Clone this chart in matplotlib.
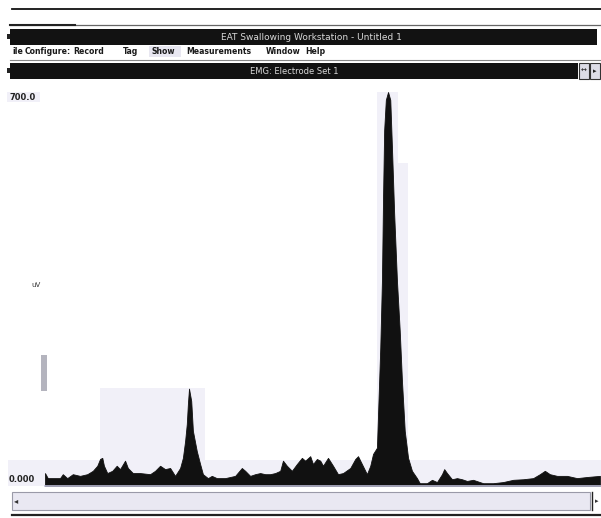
import numpy as np
import matplotlib
matplotlib.use("Agg")
from matplotlib import pyplot as plt
from matplotlib.patches import Rectangle

# EMG trace (time in s, amplitude in uV)
t = [0.00, 0.05, 0.27, 0.32, 0.40, 0.50, 0.63, 0.76, 0.86, 0.94, 0.99, 1.03,
     1.06, 1.12, 1.21, 1.29, 1.35, 1.44, 1.49, 1.58, 1.71, 1.89, 1.98, 2.07,
     2.16, 2.25, 2.34, 2.43, 2.48, 2.52, 2.55, 2.57, 2.59, 2.63, 2.66, 2.73,
     2.79, 2.84, 2.93, 3.00, 3.09, 3.24, 3.42, 3.54, 3.60, 3.69, 3.78, 3.87,
     3.96, 4.05, 4.14, 4.23, 4.28, 4.35, 4.44, 4.53, 4.62, 4.68, 4.77, 4.82,
     4.89, 4.95, 5.00, 5.09, 5.18, 5.27, 5.36, 5.49, 5.58, 5.63, 5.70, 5.79,
     5.85, 5.90, 5.97, 5.99, 6.03, 6.06, 6.08, 6.10, 6.13, 6.17, 6.21, 6.24,
     6.28, 6.33, 6.38, 6.42, 6.47, 6.53, 6.60, 6.69, 6.74, 6.87, 6.96, 7.05,
     7.14, 7.18, 7.23, 7.32, 7.41, 7.50, 7.59, 7.70, 7.88, 8.06, 8.24, 8.42,
     8.60, 8.78, 8.90, 8.99, 9.08, 9.21, 9.39, 9.57, 9.75, 9.98]
emg = [23, 14, 14, 21, 14, 21, 18, 21, 27, 36, 48, 50,
       36, 23, 27, 36, 30, 45, 32, 23, 23, 21, 27, 36,
       30, 32, 18, 32, 50, 80, 110, 146, 173, 151, 98, 62,
       39, 21, 14, 18, 14, 14, 18, 32, 27, 18, 21, 23,
       21, 21, 23, 27, 45, 36, 27, 39, 50, 45, 53, 39,
       48, 45, 36, 50, 36, 21, 23, 32, 48, 53, 39, 21,
       36, 57, 68, 128, 246, 365, 513, 632, 686, 700, 686, 602,
       484, 365, 276, 187, 98, 50, 27, 14, 5, 5, 11, 7,
       21, 30, 23, 12, 14, 12, 9, 11, 5, 5, 7, 11,
       12, 14, 21, 27, 21, 18, 18, 14, 16, 18]

menu_items = ["ile", "Configure:", "Record", "Tag", "Show", "Measurements", "Window", "Help"]
menu_x = [12, 25, 73, 123, 151, 186, 266, 305]

W, H = 601, 518
fig = plt.figure(figsize=(W / 100, H / 100), dpi=100)
fig.patch.set_facecolor("white")

# window chrome drawn in pixel coordinates
ui = fig.add_axes([0, 0, 1, 1], zorder=0)
ui.set_xlim(0, W)
ui.set_ylim(H, 0)
ui.axis("off")

lav = "#f1f0f8"
for (x0, y0, x1, y1) in [(8, 460, 601, 486), (100, 388, 205, 460),
                         (377, 92, 398, 460), (398, 163, 408, 460)]:
    ui.add_patch(Rectangle((x0, y0), x1 - x0, y1 - y0, color=lav, lw=0))

ui.plot([12, 601], [9, 9], color="#111111", lw=1.3)
ui.plot([10, 601], [25, 25], color="#666666", lw=0.9)
ui.plot([10, 75], [25, 25], color="#222222", lw=1.5)

# title bar
ui.add_patch(Rectangle((10, 29), 587, 16, color="#121212", lw=0))
ui.add_patch(Rectangle((7, 34), 3, 5, color="#222222", lw=0))
ui.text(311, 37.5, "EAT Swallowing Workstation - Untitled 1", color="#d8d8d8",
        fontsize=6.5, ha="center", va="center")

# menu bar
ui.add_patch(Rectangle((149, 46), 32, 11, color="#e8e7f1", lw=0))
for lbl, x in zip(menu_items, menu_x):
    ui.text(x, 51.5, lbl, fontsize=5.6, fontweight="bold", color="#1a1a1a",
            ha="left", va="center")
ui.plot([10, 601], [60, 60], color="#888888", lw=0.8)

# EMG window bar
ui.add_patch(Rectangle((10, 63), 568, 16, color="#121212", lw=0))
ui.add_patch(Rectangle((7, 68), 3, 5, color="#222222", lw=0))
ui.text(294, 71.5, "EMG: Electrode Set 1", color="#d8d8d8", fontsize=6,
        ha="center", va="center")
ui.add_patch(Rectangle((579, 63), 10, 16, facecolor="#dcdce6", edgecolor="#333333", lw=0.8))
ui.add_patch(Rectangle((590, 63), 10, 16, facecolor="#dcdce6", edgecolor="#333333", lw=0.8))
ui.text(584, 71, "↔", fontsize=5, ha="center", va="center", color="#222222")
ui.text(595, 71, "▸", fontsize=5, ha="center", va="center", color="#222222")

# axis labels
ui.add_patch(Rectangle((7, 92), 33, 10, color=lav, lw=0))
ui.text(9, 97, "700.0", fontsize=6, fontweight="bold", color="#222222", va="center")
ui.text(9, 479, "0.000", fontsize=6, fontweight="bold", color="#222222", va="center")
ui.text(31, 285, "uV", fontsize=5, color="#333333", va="center")
ui.add_patch(Rectangle((41, 355), 6, 36, color="#b4b4be", lw=0))

# scroll bar
ui.add_patch(Rectangle((12, 492), 578, 18, facecolor="#e9e8f2", edgecolor="#9a9aa8", lw=0.8))
ui.text(16, 501, "◂", fontsize=6, ha="center", va="center", color="#333333")
ui.plot([592, 592], [492, 510], color="#222222", lw=1.0)
ui.text(597, 501, "▸", fontsize=5, ha="center", va="center", color="#333333")
ui.plot([12, 601], [515, 515], color="#222222", lw=1.6)

# EMG plot
ax = fig.add_axes([45 / W, 1 - 486 / H, 1 - 45 / W, (486 - 92) / H], zorder=1)
ax.patch.set_alpha(0)
ax.fill_between(t, emg, 0, color="#111111", lw=0.6, edgecolor="#111111")
ax.set_xlim(0, 10)
ax.set_ylim(0, 700)
for s in ["top", "right", "left"]:
    ax.spines[s].set_visible(False)
ax.spines["bottom"].set_color("#b8b8d0")
ax.spines["bottom"].set_linewidth(1.2)
ax.set_xticks([])
ax.set_yticks([])

fig.savefig("out.png", dpi=100)
